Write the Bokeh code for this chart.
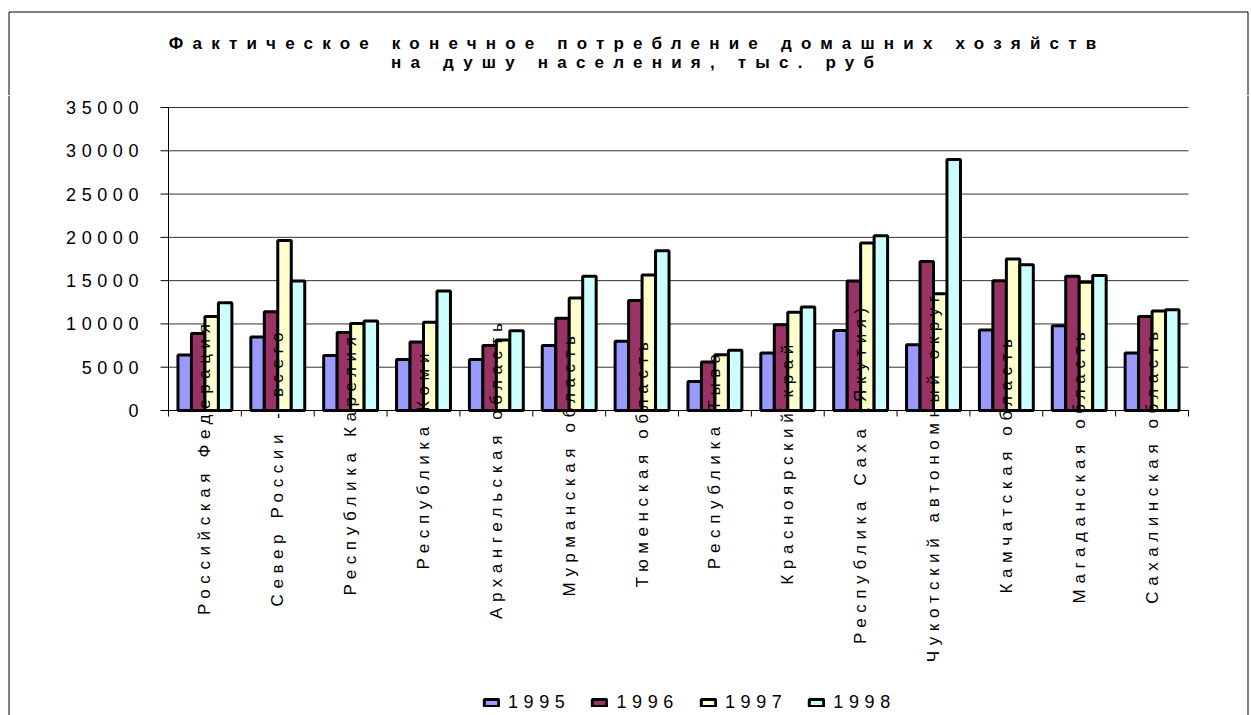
import math

from bokeh.core.properties import value
from bokeh.embed import file_html
from bokeh.models import (ColumnDataSource, Label, LabelSet, Legend,
                          LegendItem, Range1d)
from bokeh.plotting import figure
from bokeh.resources import INLINE

# ---------------------------------------------------------------- data
title_lines = [
    "Фактическое конечное потребление домашних хозяйств",
    "на душу населения, тыс. руб",
]
regions = [
    "Российская Федерация",
    "Север России - всего",
    "Республика Карелия",
    "Республика Коми",
    "Архангельская область",
    "Мурманская область",
    "Тюменская область",
    "Республика Тыва",
    "Красноярский край",
    "Республика Саха (Якутия)",
    "Чукотский автономный округ",
    "Камчатская область",
    "Магаданская область",
    "Сахалинская область",
]
years = ["1995", "1996", "1997", "1998"]
v1995 = [6400, 8500, 6350, 5900, 5900, 7500, 8000, 3350, 6650, 9250, 7600, 9300, 9800, 6650]
v1996 = [8900, 11400, 9000, 7900, 7500, 10650, 12700, 5600, 9900, 14950, 17200, 15000, 15500, 10850]
v1997 = [10850, 19650, 10050, 10200, 8150, 13000, 15650, 6450, 11350, 19350, 13500, 17500, 14800, 11500]
v1998 = [12450, 14950, 10350, 13800, 9200, 15500, 18450, 6950, 11950, 20200, 29000, 16850, 15600, 11650]
y_ticks = [0, 5000, 10000, 15000, 20000, 25000, 30000, 35000]
y_tick_labels = ["0", "5000", "10000", "15000", "20000", "25000", "30000", "35000"]

series = [v1995, v1996, v1997, v1998]
colors = ["#9999FF", "#993366", "#FFFFCC", "#CCFFFF"]

# ---------------------------------------------------------------- layout
FONT = "Liberation Sans"
PAGE_W = 1251
TITLE_H = 95
MAIN_H = 620
TITLE_LS = 9.2     # letter spacing of the heading, px
MAIN_LS = 5.6      # letter spacing of the axis and legend texts, px

# plot area in page pixels
AREA_L, AREA_R = 168, 1188
AREA_T, AREA_B = 107, 410
Y_MAX = y_ticks[-1]
N = len(regions)

# outer chart frame in page pixels
BOX_L, BOX_R, BOX_T = 8.5, 1247.5, 11.5

# ---------------------------------------------------------------- heading
# a strip whose frame fills the whole canvas, so data units are pixels
tf = figure(width=PAGE_W, height=TITLE_H, x_range=Range1d(0, PAGE_W),
            y_range=Range1d(TITLE_H, 0), x_axis_location=None,
            y_axis_location=None, toolbar_location=None, output_backend="svg",
            min_border=0, outline_line_color=None,
            stylesheets=[":host { letter-spacing: %.1fpx; }" % TITLE_LS])
tf.grid.visible = False
# top and upper side lines of the outer chart frame
tf.multi_line(xs=[[BOX_L, BOX_L, BOX_R, BOX_R]],
              ys=[[TITLE_H + 5, BOX_T, BOX_T, TITLE_H + 5]],
              line_color="black", line_width=1)
for line, ty in zip(title_lines, [43, 62]):
    tf.add_layout(Label(x=632, y=ty, text=line, text_align="center",
                        text_baseline="middle", text_font=FONT,
                        text_font_size="17px", text_font_style="bold",
                        text_color="black",
                        x_offset=-(len(line) - 1) * TITLE_LS / 2))

# ---------------------------------------------------------------- chart
# the frame fills the canvas; the ranges put the plot area where it belongs
x_per_px = N / (AREA_R - AREA_L)
y_per_px = Y_MAX / (AREA_B - AREA_T)
x_lo = -AREA_L * x_per_px
y_lo = -(TITLE_H + MAIN_H - AREA_B) * y_per_px
y_hi = Y_MAX + (AREA_T - TITLE_H) * y_per_px
x_range = Range1d(x_lo, N + (PAGE_W - AREA_R) * x_per_px)
y_range = Range1d(y_lo, y_hi)

p = figure(width=PAGE_W, height=MAIN_H, x_range=x_range, y_range=y_range,
           x_axis_location=None, y_axis_location=None, toolbar_location=None,
           output_backend="svg", min_border=0, outline_line_color=None,
           stylesheets=[":host { letter-spacing: %.1fpx; }" % MAIN_LS])
p.grid.visible = False

# lower side lines of the outer chart frame
side_x = [x_lo + BOX_L * x_per_px, x_lo + BOX_R * x_per_px]
p.multi_line(xs=[[sx, sx] for sx in side_x], ys=[[y_lo, y_hi], [y_lo, y_hi]],
             line_color="black", line_width=1)

# horizontal grid lines
p.segment(x0=[0] * len(y_ticks), x1=[N] * len(y_ticks), y0=y_ticks, y1=y_ticks,
          line_color="#333333", line_width=1)

# value axis: line and outward ticks
p.segment(x0=[0], x1=[0], y0=[0], y1=[Y_MAX], line_color="black", line_width=1)
p.segment(x0=[-8 * x_per_px] * len(y_ticks), x1=[0] * len(y_ticks),
          y0=y_ticks, y1=y_ticks, line_color="black", line_width=1)

# category axis: line and ticks between the groups
x_bounds = list(range(N + 1))
p.segment(x0=[0], x1=[N], y0=[0], y1=[0], line_color="black", line_width=1)
p.segment(x0=x_bounds, x1=x_bounds, y0=[0] * len(x_bounds),
          y1=[-6 * y_per_px] * len(x_bounds), line_color="black", line_width=1)

# four bars per region, side by side
bar_w = 0.185
offsets = [-1.5 * bar_w, -0.5 * bar_w, 0.5 * bar_w, 1.5 * bar_w]
bars = []
for vals, col, off in zip(series, colors, offsets):
    src = ColumnDataSource(dict(x=[i + 0.5 + off for i in range(N)], top=vals))
    bars.append(p.vbar(x="x", top="top", width=bar_w, bottom=0, source=src,
                       fill_color=col, line_color="black", line_width=3))

# value labels of the vertical axis
ysrc = ColumnDataSource(dict(
    x=[0] * len(y_ticks), y=y_ticks, text=y_tick_labels,
    xo=[-30 - (len(t) - 1) * MAIN_LS for t in y_tick_labels]))
p.add_layout(LabelSet(x="x", y="y", text="text", source=ysrc, x_offset="xo",
                      text_align="right", text_baseline="middle",
                      text_font=value(FONT), text_font_size="18px",
                      text_color="black"))

# region names, written upwards under each group
csrc = ColumnDataSource(dict(
    x=[i + 0.5 for i in range(N)], y=[0] * N, text=regions,
    yo=[-(27 + 1.6 * len(r) + (len(r) - 1) * MAIN_LS / 2) for r in regions]))
p.add_layout(LabelSet(x="x", y="y", text="text", source=csrc, y_offset="yo",
                      angle=math.pi / 2, text_align="center",
                      text_baseline="middle", text_font=value(FONT),
                      text_font_size="17px", text_color="black"))

legend = Legend(items=[LegendItem(label=y, renderers=[r]) for y, r in zip(years, bars)],
                orientation="horizontal", location=(482, 2.5),
                glyph_width=18, glyph_height=9, label_standoff=8,
                label_width=60, spacing=20, padding=0, margin=0,
                border_line_color=None, background_fill_color=None,
                label_text_font=FONT, label_text_font_size="18px",
                label_text_color="black")
p.add_layout(legend)

open("out.html", "w").write(file_html([tf, p], INLINE))
